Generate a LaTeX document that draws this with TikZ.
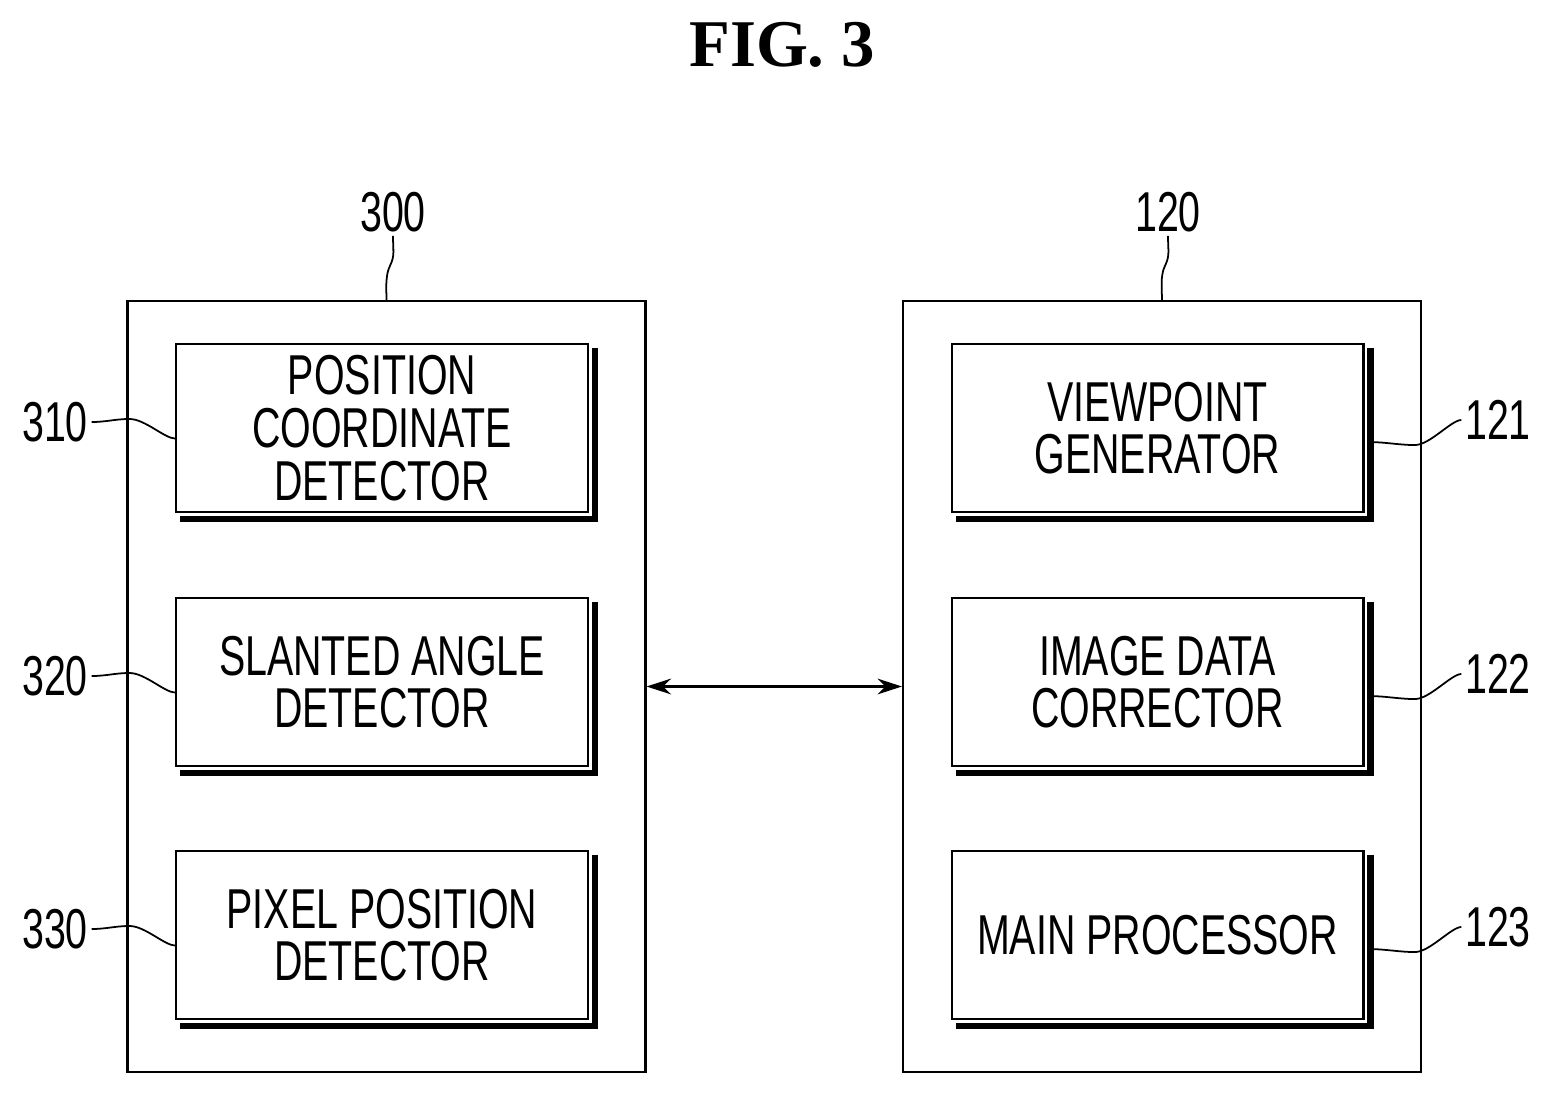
\documentclass[tikz,border=0pt]{standalone}
\usepackage{fontspec}
\setmainfont{Liberation Sans}[FakeStretch=0.7]
\newfontfamily\titlefont{Liberation Serif}
\usetikzlibrary{arrows.meta}
\begin{document}
\begin{tikzpicture}[x=0.02cm,y=-0.02cm,
  outer/.style={draw,line width=1.2pt,minimum width=10.36cm,minimum height=15.42cm},
  block/.style={draw,line width=1.2pt,minimum width=8.24cm,minimum height=3.36cm,
    align=center,font=\fontsize{32}{30}\selectfont,inner sep=0pt},
  refnum/.style={font=\fontsize{32}{32}\selectfont,inner sep=2pt},
  leader/.style={line width=1pt}]
  \useasboundingbox (0,0) rectangle (1554,1094);
  \node[font=\titlefont\bfseries\fontsize{38}{38}\selectfont] (title) at (782,45) {FIG. 3};
  % outer units
  \node[outer] (sensor) at (386.5,686.5) {};
  \node[outer] (ctrl) at (1162,686.5) {};
  \node[refnum] (n300) at (393,212) {300};
  \node[refnum] (n120) at (1168,212) {120};
  \draw[leader] (n300.south) .. controls +(0,15) and +(5,-10) .. +(-3,30) .. controls +(-5,10) and +(0,-10) .. (sensor.north);
  \draw[leader] (n120.south) .. controls +(0,15) and +(5,-10) .. +(-3,30) .. controls +(-5,10) and +(0,-10) .. (ctrl.north);
  % blocks
  \node[block] (posdet) at (382,428) {POSITION\\COORDINATE\\DETECTOR};
  \node[block] (angdet) at (382,682) {SLANTED ANGLE\\DETECTOR};
  \node[block] (pixdet) at (382,935) {PIXEL POSITION\\DETECTOR};
  \node[block] (vpgen) at (1157.5,428) {VIEWPOINT\\GENERATOR};
  \node[block] (imgcor) at (1157.5,682) {IMAGE DATA\\CORRECTOR};
  \node[block] (mainproc) at (1157.5,935) {MAIN PROCESSOR};
  \foreach \b in {posdet,angdet,pixdet,vpgen,imgcor,mainproc}
    \draw[line width=3.5pt] ([shift={(6,5)}]\b.north east) -- ([shift={(6,6)}]\b.south east) -- ([shift={(5,6)}]\b.south west);
  % reference numerals
  \node[refnum] (n310) at (55,422) {310};
  \node[refnum] (n320) at (55,676) {320};
  \node[refnum] (n330) at (55,929) {330};
  \node[refnum] (n121) at (1498,420) {121};
  \node[refnum] (n122) at (1498,674) {122};
  \node[refnum] (n123) at (1498,927) {123};
  \foreach \a/\b in {n310/posdet,n320/angdet,n330/pixdet}
    \draw[leader] (\a.east) .. controls +(15,0) and +(-15,0) .. +(38,-3) .. controls +(15,0) and +(-10,0) .. ([yshift=-6]\b.west);
  \foreach \a/\b in {n121/vpgen,n122/imgcor,n123/mainproc}
    \draw[leader] ([xshift=3,yshift=-8]\b.east) .. controls +(15,0) and +(-15,0) .. +(45,3) .. controls +(15,0) and +(-10,0) .. (\a.west);
  % link
  \draw[line width=1.2pt,{Stealth[length=14pt,width=9pt]}-{Stealth[length=14pt,width=9pt]}] (sensor.east) -- (ctrl.west);
\end{tikzpicture}
\end{document}
